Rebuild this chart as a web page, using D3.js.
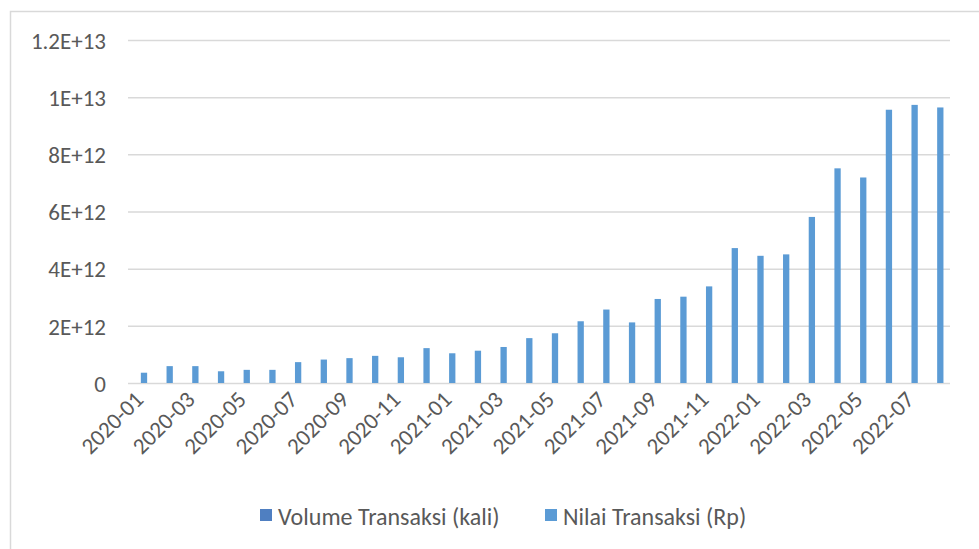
<!DOCTYPE html>
<html>
<head>
<meta charset="utf-8">
<script src="https://cdn.jsdelivr.net/npm/d3@7"></script>
<style>
  html, body { margin: 0; padding: 0; background: #ffffff; }
  svg { display: block; }
  text { font-family: Calibri, Carlito, Lato, "Open Sans", sans-serif; fill: #595959; }
</style>
</head>
<body>
<svg id="chart" width="979" height="549"></svg>
<script>
// Monthly QR payment transactions, Jan 2020 – Aug 2022
const months = [
  "2020-01","2020-02","2020-03","2020-04","2020-05","2020-06","2020-07","2020-08",
  "2020-09","2020-10","2020-11","2020-12","2021-01","2021-02","2021-03","2021-04",
  "2021-05","2021-06","2021-07","2021-08","2021-09","2021-10","2021-11","2021-12",
  "2022-01","2022-02","2022-03","2022-04","2022-05","2022-06","2022-07","2022-08"
];

// Transaction counts sit far below the rupiah scale of the axis (effectively zero height)
const volumeTransaksi = [
  0,0,0,0,0,0,0,0, 0,0,0,0,0,0,0,0,
  0,0,0,0,0,0,0,0, 0,0,0,0,0,0,0,0
];

// Transaction value in rupiah
const nilaiTransaksi = [
  0.36e12, 0.59e12, 0.59e12, 0.41e12, 0.46e12, 0.46e12, 0.73e12, 0.82e12,
  0.87e12, 0.95e12, 0.90e12, 1.22e12, 1.04e12, 1.13e12, 1.26e12, 1.57e12,
  1.74e12, 2.16e12, 2.57e12, 2.12e12, 2.94e12, 3.02e12, 3.38e12, 4.72e12,
  4.45e12, 4.50e12, 5.81e12, 7.51e12, 7.19e12, 9.56e12, 9.73e12, 9.64e12
];

const seriesNames = ["Volume Transaksi (kali)", "Nilai Transaksi (Rp)"];
const seriesColors = ["#4F7FC1", "#5B9BD5"];

const yTickValues = [0, 2e12, 4e12, 6e12, 8e12, 1e13, 1.2e13];
const yTickLabels = ["0", "2E+12", "4E+12", "6E+12", "8E+12", "1E+13", "1.2E+13"];

const xTickLabels = months.filter((m, i) => i % 2 === 0);

const FONT = "23px";
const LEGEND_FONT = "24px";

const svg = d3.select("#chart");
const W = 979, H = 549;
const plot = { left: 128, right: 950, top: 40, bottom: 383 };

svg.append("rect").attr("width", W).attr("height", H).attr("fill", "#ffffff");

// chart area frame
svg.append("rect")
  .attr("x", 10.5).attr("y", 11.5)
  .attr("width", W + 20).attr("height", H + 20)
  .attr("fill", "none").attr("stroke", "#d9d9d9").attr("stroke-width", 1.5);

const x = d3.scaleBand().domain(months).range([plot.left, plot.right]).paddingInner(0).paddingOuter(0);
const barW = 6.3;
const xs = d3.scaleBand().domain(seriesNames).range([-barW, barW]);
const y = d3.scaleLinear().domain([0, 1.2e13]).range([plot.bottom, plot.top]);

// gridlines + value axis labels
const yAxis = d3.axisLeft(y)
  .tickValues(yTickValues)
  .tickSize(-(plot.right - plot.left))
  .tickPadding(22)
  .tickFormat((d, i) => yTickLabels[i]);

const gy = svg.append("g").attr("transform", `translate(${plot.left},0)`).call(yAxis);
gy.select(".domain").remove();
gy.selectAll(".tick line").attr("stroke", "#d9d9d9").attr("stroke-width", 1.5);
gy.selectAll(".tick text")
  .style("font-size", FONT)
  .attr("fill", "#595959")
  .attr("dy", "0.36em");

// bars
const seriesData = [volumeTransaksi, nilaiTransaksi];
seriesData.forEach((vals, si) => {
  svg.append("g")
    .selectAll("rect")
    .data(vals)
    .join("rect")
    .attr("x", (d, i) => x(months[i]) + x.bandwidth() / 2 + xs(seriesNames[si]))
    .attr("width", xs.bandwidth())
    .attr("y", d => y(d))
    .attr("height", d => y(0) - y(d))
    .attr("fill", seriesColors[si]);
});

// category axis labels, every second month, rotated
const xAxis = d3.axisBottom(x)
  .tickValues(xTickLabels)
  .tickSize(0)
  .tickPadding(0);
const gx = svg.append("g").attr("transform", `translate(0,${plot.bottom})`).call(xAxis);
gx.select(".domain").remove();
gx.selectAll(".tick text")
  .style("font-size", FONT)
  .attr("fill", "#595959")
  .attr("text-anchor", "end")
  .attr("dy", null)
  .attr("y", 0)
  .attr("transform", "translate(4,18) rotate(-45)");

// legend
const legendItems = [
  { name: seriesNames[0], color: seriesColors[0], x: 260 },
  { name: seriesNames[1], color: seriesColors[1], x: 545 }
];
const lg = svg.append("g");
legendItems.forEach(it => {
  lg.append("rect")
    .attr("x", it.x).attr("y", 509)
    .attr("width", 12).attr("height", 12)
    .attr("fill", it.color);
  lg.append("text")
    .attr("x", it.x + 18).attr("y", 516)
    .attr("dy", "0.36em")
    .style("font-size", LEGEND_FONT)
    .text(it.name);
});
</script>
</body>
</html>
